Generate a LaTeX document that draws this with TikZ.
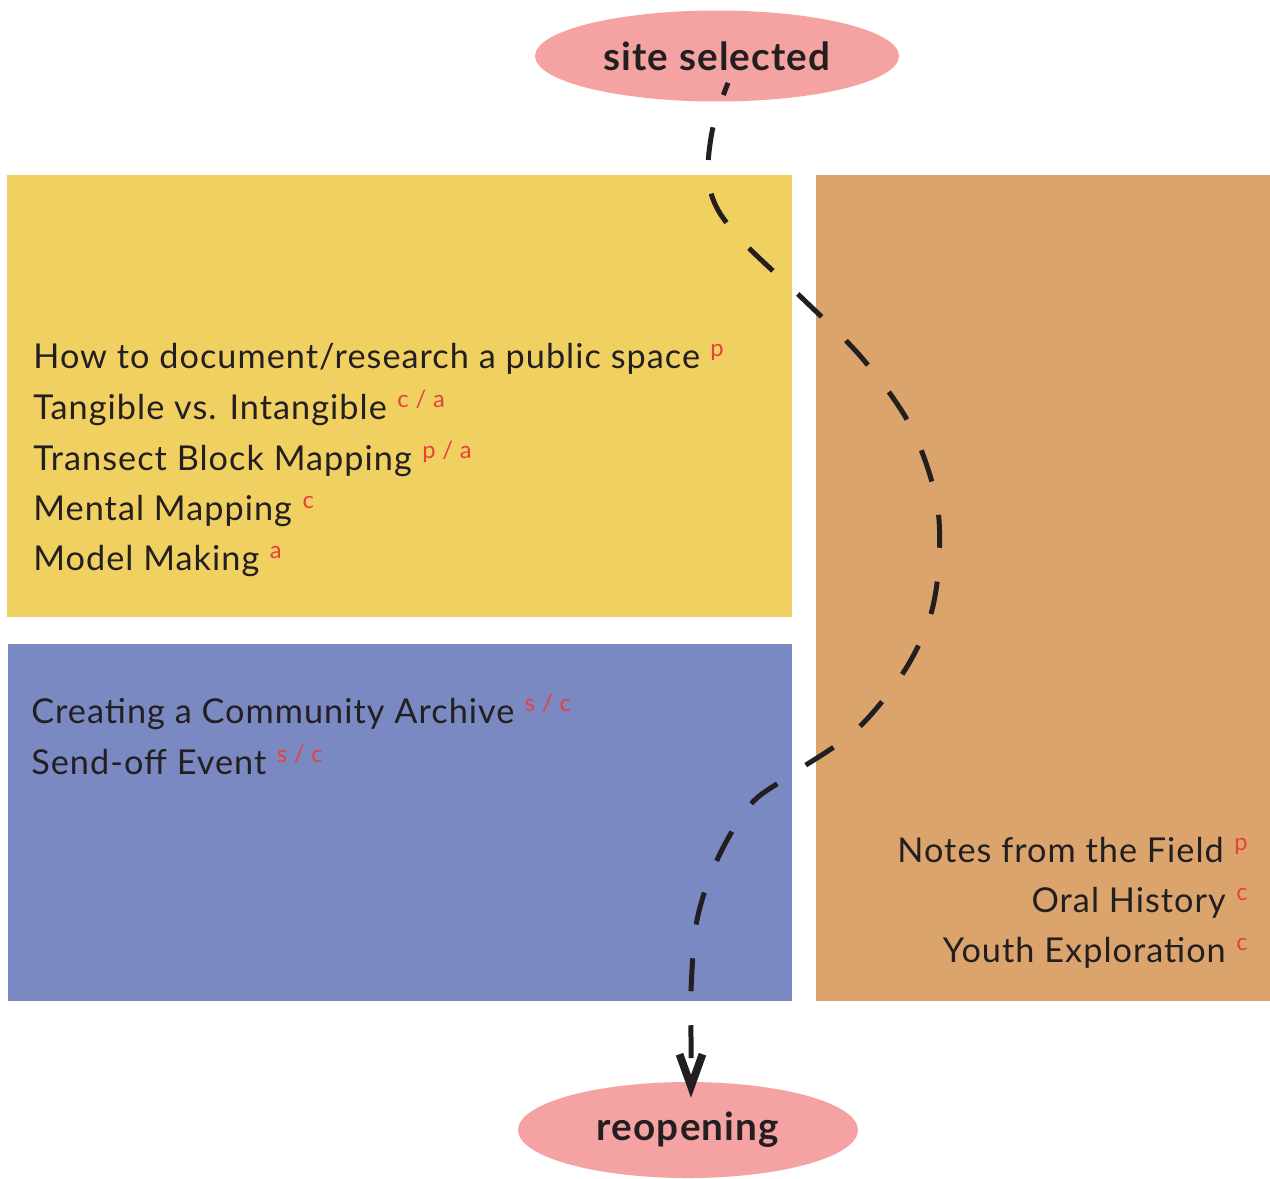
\documentclass[tikz,border=0pt]{standalone}
\usepackage{fontspec}
\setmainfont{Lato}[LetterSpace=3]
\usepackage{xcolor}
\usetikzlibrary{shapes.geometric, arrows.meta, positioning}

\definecolor{pinkfill}{HTML}{F5A3A2}
\definecolor{yellowfill}{HTML}{F1D062}
\definecolor{bluefill}{HTML}{7B89C2}
\definecolor{orangefill}{HTML}{DBA46D}
\definecolor{inkblack}{HTML}{231F20}
\definecolor{tagred}{HTML}{E8413A}

\tikzstyle{milestone} = [ellipse, fill=pinkfill, inner sep=0pt, text=inkblack, font=\fontsize{22}{25}\selectfont\bfseries]
\tikzstyle{panel} = [rectangle, anchor=north west, inner sep=0pt]
\tikzstyle{item} = [inner sep=0pt, text=inkblack, font=\fontsize{19.5}{23}\selectfont]
\tikzstyle{arrow} = [line width=0.1cm, inkblack, dash pattern=on 0.66cm off 0.68cm, dash phase=0.4cm, -{Straight Barb[length=0.64cm, width=0.46cm, line width=0.155cm, sharp]}]

% small red tag after a workshop name
\newcommand{\tagnote}[1]{\hspace{6pt}\raisebox{6.5pt}{\color{tagred}\fontsize{13.5}{15}\selectfont #1}}

\begin{document}
\begin{tikzpicture}[x=0.02cm, y=-0.02cm]
				\useasboundingbox (0,0) rectangle (1270,1178);
				
				\node (site) [milestone, minimum width=7.28cm, minimum height=1.82cm] at (717,56) {site selected};
				\node (reopen) [milestone, minimum width=6.8cm, minimum height=1.92cm] at (688,1130) {reopening};
				
				\node (learn) [panel, fill=yellowfill, minimum width=15.7cm, minimum height=8.84cm] at (7,175) {};
				\node (share) [panel, fill=bluefill, minimum width=15.68cm, minimum height=7.14cm] at (8,644) {};
				\node (field) [panel, fill=orangefill, minimum width=9.08cm, minimum height=16.52cm] at (816,175) {};
				
				\node (l1) [item, anchor=base west] at (33,368) {How to document/research a public space\tagnote{p}};
				\node (l2) [item, anchor=base west] at (33,419) {Tangible vs. Intangible\tagnote{c / a}};
				\node (l3) [item, anchor=base west] at (33,470) {Transect Block Mapping\tagnote{p / a}};
				\node (l4) [item, anchor=base west] at (33,520) {Mental Mapping\tagnote{c}};
				\node (l5) [item, anchor=base west] at (33,570) {Model Making\tagnote{a}};
				
				\node (s1) [item, anchor=base west] at (31,723) {Creating a Community Archive\tagnote{s / c}};
				\node (s2) [item, anchor=base west] at (31,774) {Send-off Event\tagnote{s / c}};
				
				\node (f1) [item, anchor=base east] at (1248,862) {Notes from the Field\tagnote{p}};
				\node (f2) [item, anchor=base east] at (1248,912) {Oral History\tagnote{c}};
				\node (f3) [item, anchor=base east] at (1248,962) {Youth Exploration\tagnote{c}};
				
				% winding path from the selected site down to the reopening
				\draw [arrow] plot [smooth, tension=0.55] coordinates {([shift={(11,-19)}]site.south) (713,127) (708,175) (718,210) (748,247) (802,298) (862,358) (910,425) (936,498) (939,560) (930,617) (903,673) (855,731) (789,776) (750,805) (717,860) (697,920) (691,990) (691,1040) ([shift={(3,16)}]reopen.north)};
				
			\end{tikzpicture}
\end{document}
